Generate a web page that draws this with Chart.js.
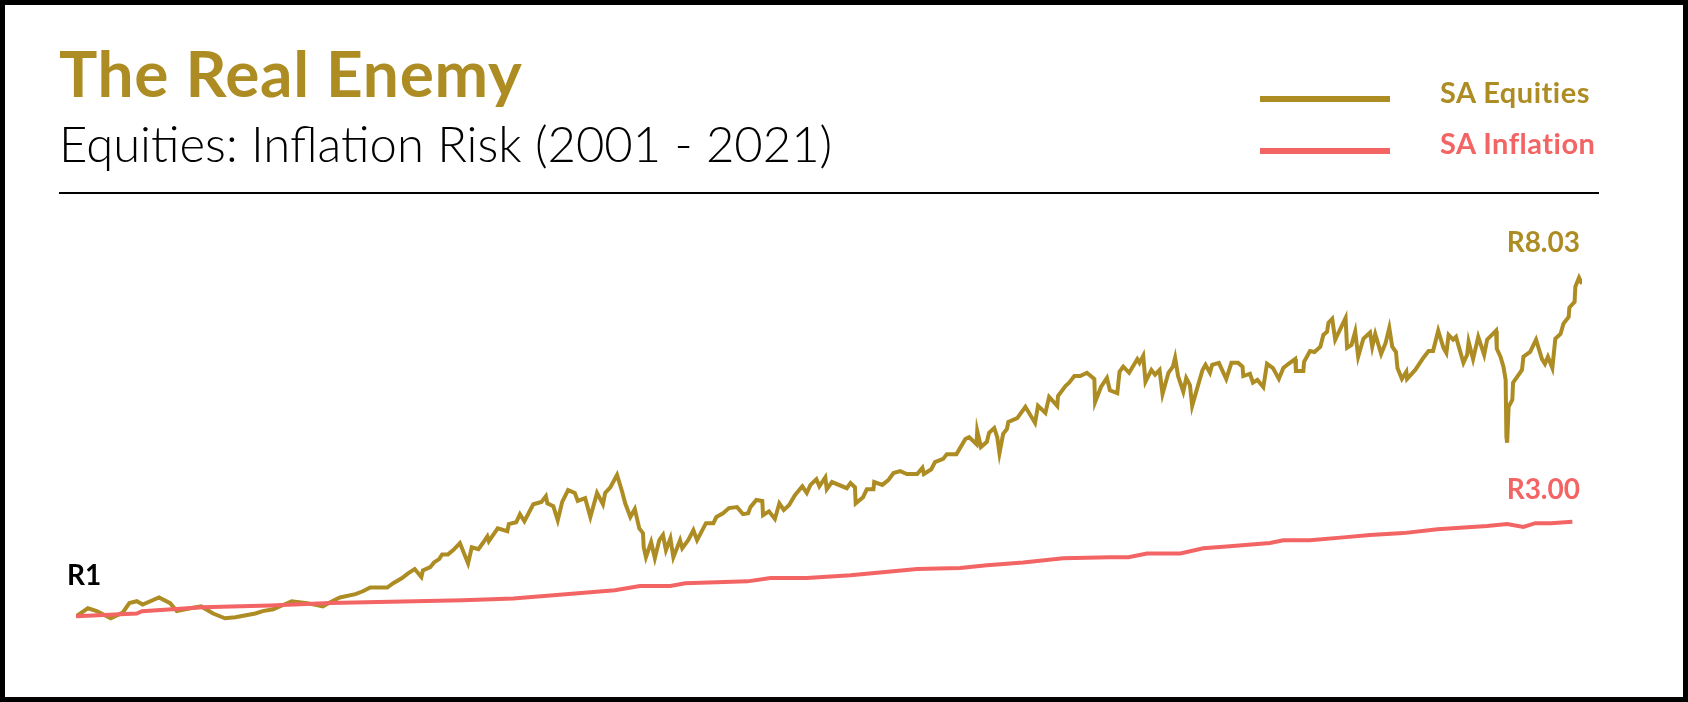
<!DOCTYPE html>
<html>
<head>
<meta charset="utf-8">
<script src="https://cdn.jsdelivr.net/npm/chart.js@4"></script>
<style>
  html, body { margin: 0; padding: 0; background: #fff; }
  #page { position: relative; width: 1688px; height: 702px; overflow: hidden; background: #fff; font-family: Lato, "Open Sans", sans-serif; }
  #frame { position: absolute; left: 0; top: 0; width: 1688px; height: 702px; box-sizing: border-box; border: 5px solid #000; pointer-events: none; }
  canvas { position: absolute; left: 0; top: 0; }
  .txt { position: absolute; white-space: nowrap; line-height: 1; }
  #title { left: 59px; top: 41px; font-size: 64px; font-weight: 700; letter-spacing: 0.7px; color: #AD8D23; }
  #subtitle { left: 59px; top: 119px; font-size: 49px; font-weight: 300; color: #000; }
  #rule { position: absolute; left: 59px; top: 192px; width: 1540px; height: 2px; background: #000; }
  .legLine { position: absolute; left: 1260px; width: 130px; height: 6px; }
  .legText { font-size: 29px; font-weight: 700; left: 1440px; letter-spacing: 0.5px; }
  .endLbl { font-size: 28px; font-weight: 700; }
</style>
</head>
<body>
<div id="page">
  <canvas id="chart" width="1688" height="702"></canvas>
  <div class="txt" id="title">The Real Enemy</div>
  <div class="txt" id="subtitle">Equities: Inflation Risk (2001 - 2021)</div>
  <div id="rule"></div>
  <div class="legLine" id="legEqLine" style="top:96px"></div>
  <div class="legLine" id="legInfLine" style="top:148px"></div>
  <div class="txt legText" id="legEq" style="top:77px"></div>
  <div class="txt legText" id="legInf" style="top:128px"></div>
  <div class="txt endLbl" id="lblStart" style="color:#000"></div>
  <div class="txt endLbl" id="lblEq"></div>
  <div class="txt endLbl" id="lblInf"></div>
  <div id="frame"></div>
</div>
<script>
// colours
const GOLD = '#AD8D23';
const RED = '#F36464';

// SA Equities - growth of R1 (x = decimal year)
const eqYears = [
  2001.00, 2001.16, 2001.28, 2001.47, 2001.63, 2001.72, 2001.82, 2001.90, 2002.12, 2002.27,
  2002.36, 2002.54, 2002.69, 2002.85, 2003.01, 2003.15, 2003.42, 2003.52, 2003.66, 2003.78,
  2003.91, 2004.12, 2004.33, 2004.43, 2004.56, 2004.77, 2004.87, 2004.97, 2005.20, 2005.28,
  2005.40, 2005.48, 2005.57, 2005.66, 2005.68, 2005.78, 2005.83, 2005.90, 2005.94, 2006.02,
  2006.09, 2006.18, 2006.29, 2006.34, 2006.43, 2006.49, 2006.55, 2006.57, 2006.69, 2006.82,
  2006.84, 2006.94, 2006.99, 2007.05, 2007.17, 2007.28, 2007.34, 2007.36, 2007.44, 2007.50,
  2007.56, 2007.64, 2007.73, 2007.77, 2007.87, 2007.94, 2008.03, 2008.11, 2008.14, 2008.21,
  2008.30, 2008.37, 2008.41, 2008.48, 2008.54, 2008.60, 2008.65, 2008.66, 2008.69, 2008.76,
  2008.81, 2008.87, 2008.92, 2008.96, 2009.02, 2009.06, 2009.15, 2009.18, 2009.26, 2009.33,
  2009.38, 2009.50, 2009.60, 2009.64, 2009.73, 2009.81, 2009.92, 2010.00, 2010.07, 2010.10,
  2010.18, 2010.26, 2010.27, 2010.35, 2010.43, 2010.49, 2010.55, 2010.62, 2010.70, 2010.80,
  2010.86, 2010.91, 2010.99, 2011.03, 2011.11, 2011.13, 2011.20, 2011.40, 2011.45, 2011.51,
  2011.52, 2011.62, 2011.67, 2011.76, 2011.77, 2011.88, 2011.96, 2012.03, 2012.12, 2012.21,
  2012.35, 2012.42, 2012.44, 2012.54, 2012.59, 2012.70, 2012.75, 2012.88, 2013.00, 2013.05,
  2013.15, 2013.16, 2013.21, 2013.29, 2013.32, 2013.39, 2013.43, 2013.46, 2013.51, 2013.56,
  2013.58, 2013.70, 2013.81, 2013.94, 2013.98, 2014.08, 2014.13, 2014.24, 2014.25, 2014.35,
  2014.40, 2014.47, 2014.55, 2014.64, 2014.74, 2014.75, 2014.83, 2014.91, 2014.95, 2015.05,
  2015.08, 2015.13, 2015.21, 2015.32, 2015.35, 2015.40, 2015.43, 2015.51, 2015.56, 2015.62,
  2015.66, 2015.74, 2015.80, 2015.83, 2015.87, 2015.94, 2015.98, 2016.03, 2016.06, 2016.14,
  2016.20, 2016.24, 2016.30, 2016.33, 2016.42, 2016.52, 2016.59, 2016.68, 2016.74, 2016.75,
  2016.84, 2016.88, 2016.94, 2017.02, 2017.07, 2017.15, 2017.23, 2017.29, 2017.36, 2017.45,
  2017.46, 2017.56, 2017.57, 2017.65, 2017.71, 2017.79, 2017.83, 2017.88, 2017.90, 2017.95,
  2017.99, 2018.13, 2018.15, 2018.21, 2018.26, 2018.30, 2018.37, 2018.46, 2018.49, 2018.53,
  2018.61, 2018.67, 2018.72, 2018.76, 2018.81, 2018.83, 2018.89, 2018.95, 2018.96, 2019.07,
  2019.18, 2019.25, 2019.31, 2019.38, 2019.45, 2019.49, 2019.52, 2019.58, 2019.62, 2019.72,
  2019.77, 2019.79, 2019.85, 2019.88, 2019.92, 2020.00, 2020.04, 2020.16, 2020.17, 2020.22,
  2020.26, 2020.29, 2020.30, 2020.31, 2020.33, 2020.38, 2020.39, 2020.51, 2020.53, 2020.62,
  2020.70, 2020.78, 2020.82, 2020.86, 2020.92, 2020.96, 2021.03, 2021.07, 2021.14, 2021.15,
  2021.22, 2021.23, 2021.28, 2021.32
];
const eqValues = [
  1.00, 1.17, 1.11, 0.96, 1.08, 1.28, 1.32, 1.25, 1.40, 1.28,
  1.11, 1.17, 1.21, 1.06, 0.96, 0.98, 1.06, 1.11, 1.15, 1.23,
  1.32, 1.28, 1.21, 1.30, 1.40, 1.47, 1.53, 1.61, 1.61, 1.70,
  1.81, 1.91, 2.00, 1.83, 1.97, 2.04, 2.14, 2.21, 2.31, 2.31,
  2.40, 2.55, 2.12, 2.46, 2.42, 2.55, 2.69, 2.59, 2.86, 2.80,
  2.95, 2.99, 3.16, 3.01, 3.37, 3.42, 3.54, 3.39, 3.33, 3.03,
  3.42, 3.67, 3.61, 3.44, 3.50, 3.10, 3.61, 3.37, 3.61, 3.73,
  3.99, 3.63, 3.39, 3.10, 3.27, 2.86, 2.76, 2.46, 2.25, 2.57,
  2.23, 2.61, 2.72, 2.40, 2.65, 2.25, 2.61, 2.44, 2.61, 2.82,
  2.61, 2.97, 2.97, 3.10, 3.18, 3.29, 3.31, 3.16, 3.18, 3.31,
  3.46, 3.44, 3.14, 3.22, 3.06, 3.39, 3.25, 3.35, 3.56, 3.75,
  3.61, 3.78, 3.90, 3.75, 3.94, 3.69, 3.84, 3.71, 3.82, 3.73,
  3.39, 3.52, 3.69, 3.69, 3.84, 3.78, 3.88, 4.03, 4.07, 4.01,
  4.01, 4.14, 4.01, 4.11, 4.26, 4.33, 4.43, 4.43, 4.75, 4.79,
  4.64, 4.92, 4.58, 4.69, 4.88, 4.98, 4.79, 4.45, 4.86, 4.96,
  5.11, 5.19, 5.43, 5.09, 5.45, 5.30, 5.64, 5.45, 5.66, 5.87,
  5.94, 6.08, 6.08, 6.15, 6.02, 5.53, 5.85, 6.04, 5.78, 5.72,
  6.17, 6.28, 6.15, 6.44, 6.36, 6.51, 5.96, 6.21, 6.11, 6.21,
  5.70, 6.15, 6.28, 6.47, 6.08, 5.75, 6.04, 5.89, 5.45, 5.89,
  6.21, 6.32, 6.15, 6.32, 6.36, 6.02, 6.36, 6.36, 6.28, 6.08,
  6.13, 5.94, 6.00, 5.85, 6.34, 6.25, 6.02, 6.25, 6.34, 6.44,
  6.19, 6.19, 6.38, 6.61, 6.59, 6.70, 6.95, 7.02, 7.21, 7.29,
  6.85, 7.31, 6.68, 6.74, 7.02, 6.49, 6.87, 7.00, 6.70, 6.97,
  6.55, 6.78, 7.10, 6.70, 6.59, 6.25, 6.02, 6.17, 6.02, 6.21,
  6.47, 6.61, 6.61, 7.04, 6.68, 6.57, 6.95, 6.85, 6.91, 6.36,
  6.53, 6.81, 6.44, 6.64, 6.91, 6.53, 6.85, 7.04, 6.66, 6.49,
  6.28, 6.00, 4.79, 4.67, 5.43, 5.58, 5.94, 6.21, 6.49, 6.59,
  6.85, 6.44, 6.34, 6.49, 6.25, 6.87, 6.97, 7.19, 7.33, 7.53,
  7.65, 7.97, 8.16, 8.03
];

// SA Inflation - R1 grown by CPI
const infYears = [
  2001.00, 2001.82, 2001.89, 2002.71, 2003.62, 2004.43, 2006.22, 2006.90, 2007.94, 2008.27,
  2008.61, 2009.02, 2009.22, 2010.06, 2010.37, 2010.86, 2011.45, 2012.35, 2012.93, 2013.29,
  2013.78, 2014.32, 2014.95, 2015.20, 2015.45, 2015.90, 2016.21, 2016.57, 2017.11, 2017.29,
  2017.65, 2018.10, 2018.46, 2018.91, 2019.37, 2020.04, 2020.31, 2020.53, 2020.69, 2020.90,
  2021.19
];
const infValues = [
  1.00, 1.06, 1.11, 1.19, 1.23, 1.28, 1.34, 1.38, 1.51, 1.55,
  1.64, 1.64, 1.70, 1.74, 1.81, 1.81, 1.87, 2.00, 2.02, 2.08,
  2.14, 2.23, 2.25, 2.25, 2.33, 2.33, 2.44, 2.48, 2.55, 2.61,
  2.61, 2.67, 2.72, 2.76, 2.84, 2.91, 2.95, 2.89, 2.97, 2.97,
  3.00
];

const seriesNames = ['SA Equities', 'SA Inflation'];

if (eqYears.length !== eqValues.length || infYears.length !== infValues.length) {
  throw new Error('data length mismatch ' + eqYears.length + '/' + eqValues.length + ' ' + infYears.length + '/' + infValues.length);
}

const toPoints = (xs, ys) => xs.map((x, i) => ({ x: x, y: ys[i] }));

// legend + labels text
document.getElementById('legEq').textContent = seriesNames[0];
document.getElementById('legEq').style.color = GOLD;
document.getElementById('legInf').textContent = seriesNames[1];
document.getElementById('legInf').style.color = RED;
document.getElementById('legEqLine').style.background = GOLD;
document.getElementById('legInfLine').style.background = RED;

const lastEq = eqValues.length - 1;
const lastInf = infValues.length - 1;
document.getElementById('lblStart').textContent = 'R' + eqValues[0];
document.getElementById('lblEq').textContent = 'R' + eqValues[lastEq].toFixed(2);
document.getElementById('lblEq').style.color = GOLD;
document.getElementById('lblInf').textContent = 'R' + infValues[lastInf].toFixed(2);
document.getElementById('lblInf').style.color = RED;

// put a label so that its baseline sits at y
function placeLabel(id, x, baseline, align) {
  const el = document.getElementById(id);
  const fs = parseFloat(getComputedStyle(el).fontSize);
  el.style.top = (baseline - 0.887 * fs) + 'px';
  if (align === 'left') {
    el.style.left = x + 'px';
  } else {
    el.style.right = (1688 - x) + 'px';
  }
}

const endLabels = {
  id: 'endLabels',
  afterDraw(chart) {
    const xs = chart.scales.x;
    const ys = chart.scales.y;
    const right = chart.chartArea.right;
    placeLabel('lblStart', xs.getPixelForValue(eqYears[0]) - 9, ys.getPixelForValue(eqValues[0]) - 32, 'left');
    placeLabel('lblEq', right - 2, ys.getPixelForValue(eqValues[lastEq]) - 32, 'right');
    placeLabel('lblInf', right - 2, ys.getPixelForValue(infValues[lastInf]) - 23, 'right');
  }
};

const ctx = document.getElementById('chart').getContext('2d');
new Chart(ctx, {
  type: 'line',
  data: {
    datasets: [
      {
        label: seriesNames[1],
        data: toPoints(infYears, infValues),
        borderColor: RED,
        borderWidth: 4,
        pointRadius: 0,
        tension: 0,
        fill: false
      },
      {
        label: seriesNames[0],
        data: toPoints(eqYears, eqValues),
        borderColor: GOLD,
        borderWidth: 4,
        pointRadius: 0,
        tension: 0,
        fill: false
      }
    ]
  },
  options: {
    responsive: false,
    animation: false,
    events: [],
    layout: {
      autoPadding: false,
      padding: { left: 76, right: 106, top: 238, bottom: 62 }
    },
    scales: {
      x: { type: 'linear', min: 2001, max: 2021.32, display: false },
      y: { min: 0.5, max: 9, display: false }
    },
    plugins: {
      legend: { display: false },
      tooltip: { enabled: false }
    }
  },
  plugins: [endLabels]
});
</script>
</body>
</html>
